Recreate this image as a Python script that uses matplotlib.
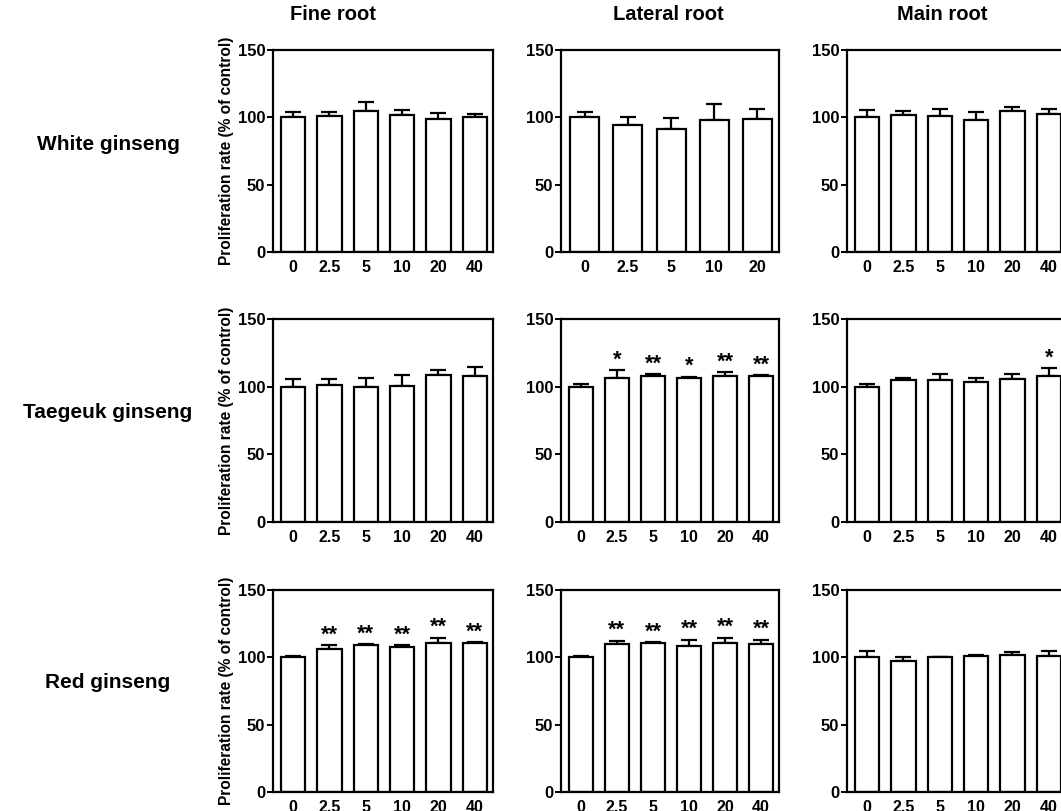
import matplotlib
matplotlib.use("Agg")
import matplotlib.pyplot as plt

#Doses shown on the x axis
doses = ["0", "2.5", "5", "10", "20", "40"]
doses_lateral_white = ["0", "2.5", "5", "10", "20"]

#Row and column names
row_names = ["White ginseng", "Taegeuk ginseng", "Red ginseng"]
col_names = ["Fine root", "Lateral root", "Main root"]

#Mean proliferation (% of control) and upper error
white_fine_mean = [100, 101, 105, 101.5, 98.5, 100]
white_fine_err = [4, 3, 6.3, 4, 4.7, 2.4]
white_lateral_mean = [100, 94, 91, 97.7, 98.4]
white_lateral_err = [4, 6.3, 8.7, 12, 8]
white_main_mean = [100, 101.7, 101, 97.7, 104.4, 102.2]
white_main_err = [5.5, 3.2, 5.5, 6.4, 3.5, 4.2]

taegeuk_fine_mean = [100, 101, 100, 100.8, 108.9, 108.2]
taegeuk_fine_err = [5.5, 4.5, 6.3, 8, 3.2, 6.2]
taegeuk_lateral_mean = [100, 106.5, 108, 106.5, 108, 108]
taegeuk_lateral_err = [2.3, 5.7, 1.2, 1, 2.5, 0.3]
taegeuk_main_mean = [100, 105, 105, 103.8, 105.7, 108]
taegeuk_main_err = [2.3, 1.5, 4, 2.7, 4, 5.7]

red_fine_mean = [100, 106.5, 109, 108, 110.5, 110.5]
red_fine_err = [0.8, 2.7, 0.7, 1.2, 4.2, 0.9]
red_lateral_mean = [100, 110, 110.5, 108.7, 110.5, 110]
red_lateral_err = [1, 2.2, 0.9, 4.3, 4.2, 3]
red_main_mean = [100, 97.6, 100, 100.8, 101.6, 100.8]
red_main_err = [4.8, 2.7, 0.3, 0.8, 2.4, 4]

#Significance marks
no_stars = ["", "", "", "", "", ""]
taegeuk_lateral_stars = ["", "*", "**", "*", "**", "**"]
taegeuk_main_stars = ["", "", "", "", "", "*"]
red_fine_stars = ["", "**", "**", "**", "**", "**"]
red_lateral_stars = ["", "**", "**", "**", "**", "**"]

panels = [
    [(doses, white_fine_mean, white_fine_err, no_stars),
     (doses_lateral_white, white_lateral_mean, white_lateral_err, no_stars),
     (doses, white_main_mean, white_main_err, no_stars)],
    [(doses, taegeuk_fine_mean, taegeuk_fine_err, no_stars),
     (doses, taegeuk_lateral_mean, taegeuk_lateral_err, taegeuk_lateral_stars),
     (doses, taegeuk_main_mean, taegeuk_main_err, taegeuk_main_stars)],
    [(doses, red_fine_mean, red_fine_err, red_fine_stars),
     (doses, red_lateral_mean, red_lateral_err, red_lateral_stars),
     (doses, red_main_mean, red_main_err, no_stars)],
]

W, H = 1061, 811
narrow = ["Liberation Sans Narrow", "Liberation Sans", "DejaVu Sans"]
plain = ["Liberation Sans", "DejaVu Sans"]

fig = plt.figure(figsize=(W / 100, H / 100), dpi=100)

#Pixel boxes of the axes
col_px = [(273, 493), (561, 779), (847, 1067)]
row_px = [(50, 252), (319, 522), (590, 792)]

for r, (top, bottom) in enumerate(row_px):
    for c, (left, right) in enumerate(col_px):
        ax = fig.add_axes([left / W, 1 - bottom / H, (right - left) / W, (bottom - top) / H])
        labels, mean, err, stars = panels[r][c]
        x = list(range(len(labels)))

        ax.errorbar(x, mean, yerr=[[0] * len(err), err], fmt="none",
                    ecolor="black", elinewidth=1.6, capsize=6, capthick=1.6, zorder=1)
        ax.bar(x, mean, width=0.67, color="white", edgecolor="black",
               linewidth=1.6, zorder=2)

        for xi, m, e, s in zip(x, mean, err, stars):
            if s:
                ax.text(xi, m + e + 3.5, s, ha="center", va="baseline",
                        fontsize=15.5, fontweight="bold", family=plain)

        ax.set_ylim(0, 150)
        ax.set_xlim(-0.55, len(labels) - 0.5)
        ax.set_yticks([0, 50, 100, 150])
        ax.set_xticks(x)
        ax.set_xticklabels(labels)
        for spine in ax.spines.values():
            spine.set_linewidth(1.6)
        ax.tick_params(axis="y", length=4, width=1.4, pad=1.5)
        ax.tick_params(axis="x", length=0, pad=6)
        for lab in ax.get_xticklabels():
            lab.set_family(narrow)
            lab.set_fontweight("bold")
            lab.set_fontsize(11.5)
        for lab in ax.get_yticklabels():
            lab.set_family(narrow)
            lab.set_fontweight("bold")
            lab.set_fontsize(12)

        if c == 0:
            ax.set_ylabel("Proliferation rate (% of control)", fontsize=11.2,
                          fontweight="bold", family=narrow, labelpad=3)

#Column titles and row names
col_title_x = [333, 668, 942]
for name, cx in zip(col_names, col_title_x):
    fig.text(cx / W, 1 - 15 / H, name, ha="center", va="center",
             fontsize=14.5, fontweight="bold", family=plain)

row_label_y = [145, 413, 682]
for name, ry in zip(row_names, row_label_y):
    fig.text(108 / W, 1 - ry / H, name, ha="center", va="center",
             fontsize=15, fontweight="bold", family=plain)

fig.savefig("out.png", dpi=100)
